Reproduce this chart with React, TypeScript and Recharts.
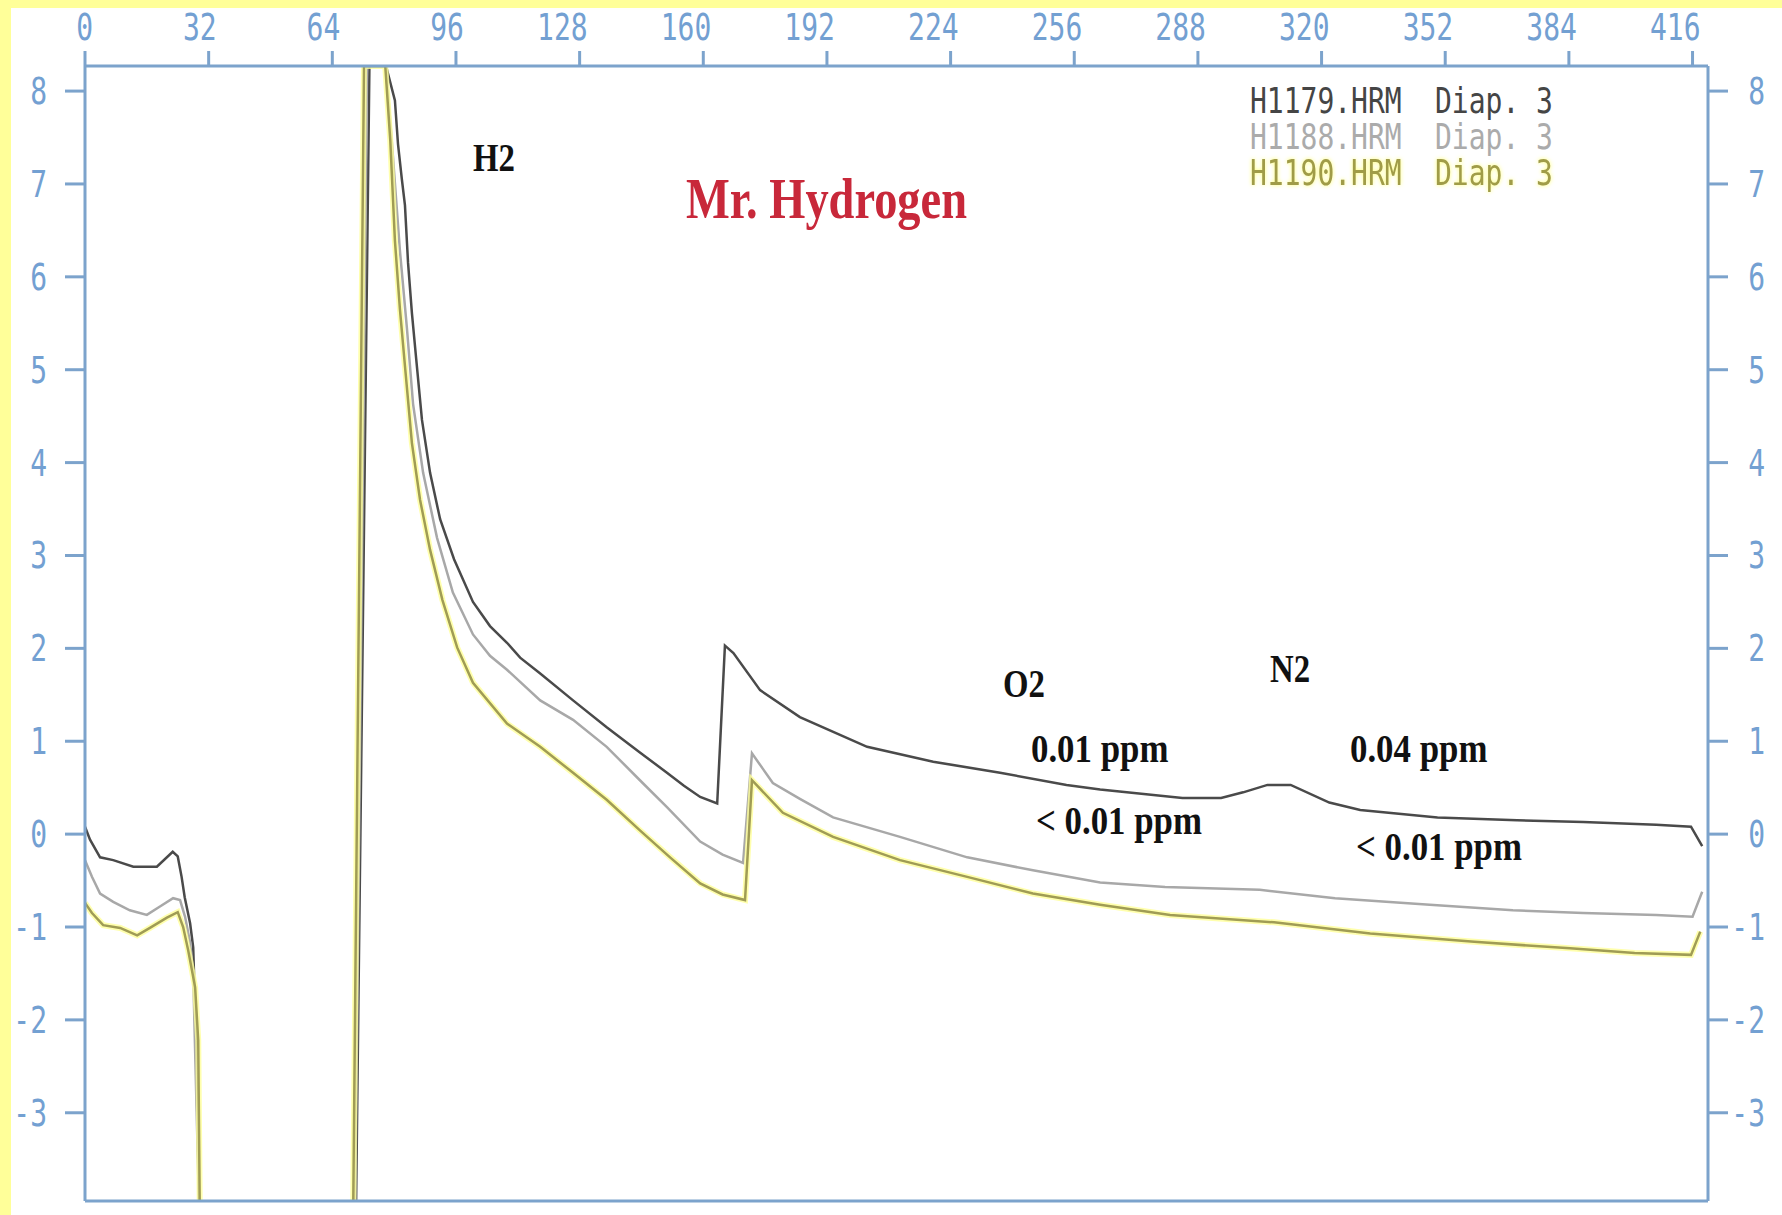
import { LineChart, Line, XAxis, YAxis } from 'recharts'

const AXIS = '#7ca3cc'
const TICK_TEXT = '#73a0d2'
const MONO = '"DejaVu Sans Mono", "Liberation Mono", monospace'
const SERIF = '"Liberation Serif", "Times New Roman", serif'

const xTicks = [0, 32, 64, 96, 128, 160, 192, 224, 256, 288, 320, 352, 384, 416]
const yTicks = [-3, -2, -1, 0, 1, 2, 3, 4, 5, 6, 7, 8]

// H1179.HRM (dark trace)
const h1179X = [0, 1.3, 3.9, 7.3, 12.5, 18.6, 22.7, 24, 25, 25.8, 27.2, 28, 28.5, 29.8, 70.0, 73.6, 77.9, 80.2, 81, 82, 82.8, 83.6, 84.6, 85.7, 87.2, 89.3, 91.9, 95.5, 100.4, 104.8, 109.2, 112.6, 117.8, 126.3, 135, 143.6, 150.6, 155, 159.2, 163.6, 165.6, 167.8, 174.7, 185, 202.4, 219.5, 236.8, 254, 262.7, 284, 294, 299.7, 306, 312, 322, 330, 350, 370.6, 387.7, 406.6, 415.6, 418.5]
const h1179Y = [0.08, -0.06, -0.25, -0.28, -0.35, -0.35, -0.19, -0.24, -0.46, -0.68, -0.96, -1.22, -1.89, -4.5, -4.5, 8.27, 8.27, 7.9, 7.43, 7.05, 6.77, 6.15, 5.61, 5.12, 4.46, 3.89, 3.39, 2.96, 2.5, 2.24, 2.06, 1.9, 1.73, 1.44, 1.15, 0.88, 0.66, 0.52, 0.4, 0.33, 2.03, 1.95, 1.55, 1.26, 0.94, 0.78, 0.66, 0.53, 0.48, 0.39, 0.39, 0.45, 0.53, 0.53, 0.34, 0.26, 0.18, 0.15, 0.13, 0.1, 0.08, -0.13]

// H1188.HRM (grey trace)
const h1188X = [0, 1.8, 3.9, 7.3, 11.6, 16, 19.4, 22.8, 24.6, 25.9, 27.2, 28, 29.8, 69.8, 73.0, 77.9, 79.5, 81.5, 83.3, 84.9, 87.5, 91.1, 95.2, 100.4, 104.8, 109.2, 117.8, 126.3, 135, 143.6, 150.6, 159.2, 165, 170.3, 172.6, 178, 185, 193.6, 210.9, 228.3, 245.3, 262.7, 279.5, 304, 323.5, 348, 369.5, 387.7, 406.6, 416, 418.5]
const h1188Y = [-0.28, -0.46, -0.64, -0.73, -0.82, -0.87, -0.78, -0.69, -0.71, -0.89, -1.17, -1.5, -4.5, -4.5, 8.27, 8.27, 7.4, 6.28, 5.45, 4.63, 3.89, 3.19, 2.6, 2.15, 1.92, 1.77, 1.44, 1.23, 0.94, 0.58, 0.29, -0.08, -0.22, -0.31, 0.87, 0.55, 0.38, 0.18, -0.03, -0.25, -0.39, -0.52, -0.57, -0.6, -0.69, -0.76, -0.82, -0.85, -0.87, -0.89, -0.62]

// H1190.HRM (olive trace)
const h1190X = [0, 1.8, 4.7, 9.1, 13.5, 16.8, 21.2, 24, 25.4, 26.7, 28.5, 29.3, 29.8, 69.3, 72.2, 77.7, 79, 80.2, 81.5, 82.8, 84.6, 86.7, 89.3, 92.5, 96.3, 100.4, 109.2, 117.8, 126.3, 135, 143.6, 151.4, 159.2, 165, 170.8, 172.6, 180.6, 193.6, 210.9, 228.3, 245.3, 262.7, 280.8, 307.7, 332.6, 359.5, 384.3, 401, 415.6, 418]
const h1190Y = [-0.74, -0.85, -0.98, -1.01, -1.09, -1.01, -0.9, -0.84, -1.0, -1.25, -1.65, -2.22, -4.5, -4.5, 8.27, 8.27, 7.47, 6.39, 5.65, 5.04, 4.21, 3.6, 3.06, 2.52, 2.01, 1.63, 1.19, 0.94, 0.66, 0.37, 0.04, -0.25, -0.53, -0.65, -0.71, 0.58, 0.23, -0.03, -0.28, -0.46, -0.64, -0.76, -0.87, -0.95, -1.07, -1.16, -1.23, -1.28, -1.3, -1.05]

const legendRows = [
  { name: 'H1179.HRM', diap: 'Diap. 3', color: '#454545', glow: 'none' },
  { name: 'H1188.HRM', diap: 'Diap. 3', color: '#ababab', glow: 'none' },
  { name: 'H1190.HRM', diap: 'Diap. 3', color: '#a09c48', glow: 'drop-shadow(0 0 2px #ffff70)' },
]

const notes = [
  { text: 'H2', x: 473, y: 171, sx: 0.8 },
  { text: 'O2', x: 1003, y: 697, sx: 0.8 },
  { text: '0.01 ppm', x: 1031, y: 762, sx: 0.85 },
  { text: '< 0.01 ppm', x: 1036, y: 834, sx: 0.85 },
  { text: 'N2', x: 1270, y: 682, sx: 0.8 },
  { text: '0.04 ppm', x: 1350, y: 762, sx: 0.85 },
  { text: '< 0.01 ppm', x: 1356, y: 860, sx: 0.85 },
]

const toPoints = (xs: number[], ys: number[]) => xs.map((t, i) => ({ t, v: ys[i] }))

// pixel-ish tall digits like the original plotter font
const TopTick = (props: any) => {
  const { x, y, payload } = props
  return (
    <text transform={`translate(${x + 8},${y}) scale(1,1.3)`} textAnchor="end" fill={TICK_TEXT} fontSize={28} fontFamily={MONO}>
      {payload.value}
    </text>
  )
}

const LeftTick = (props: any) => {
  const { x, y, payload } = props
  return (
    <text transform={`translate(${x},${y + 13}) scale(1,1.3)`} textAnchor="end" fill={TICK_TEXT} fontSize={28} fontFamily={MONO}>
      {payload.value}
    </text>
  )
}

const RightTick = (props: any) => {
  const { x, y, payload } = props
  return (
    <text transform={`translate(${x + 17},${y + 13}) scale(1,1.3)`} textAnchor="end" fill={TICK_TEXT} fontSize={28} fontFamily={MONO}>
      {payload.value}
    </text>
  )
}

export default function App() {
  return (
    <div style={{ position: 'absolute', left: 0, top: 0, width: 1782, height: 1215, background: '#ffffff', overflow: 'hidden' }}>
      <div style={{ position: 'absolute', left: 0, top: 0, width: 1782, height: 8, background: '#ffff99' }} />
      <div style={{ position: 'absolute', left: 0, top: 0, width: 11, height: 1215, background: '#ffff99' }} />
      <div style={{ position: 'absolute', left: 0, top: 0 }}>
        <LineChart width={1782} height={1215} margin={{ top: 0, right: 0, bottom: 0, left: 0 }}>
          <XAxis xAxisId="top" orientation="top" type="number" dataKey="t" domain={[0, 420]} ticks={xTicks}
            interval={0} height={66} tickSize={15} tickMargin={11} allowDataOverflow
            axisLine={{ stroke: AXIS, strokeWidth: 3 }} tickLine={{ stroke: AXIS, strokeWidth: 3 }} tick={<TopTick />} />
          <XAxis xAxisId="bottom" orientation="bottom" type="number" dataKey="t" domain={[0, 420]} height={14}
            tick={false} tickLine={false} allowDataOverflow axisLine={{ stroke: AXIS, strokeWidth: 3 }} />
          <YAxis yAxisId="left" type="number" domain={[-3.95, 8.27]} ticks={yTicks} interval={0} width={85}
            tickSize={20} tickMargin={18} allowDataOverflow
            axisLine={{ stroke: AXIS, strokeWidth: 3 }} tickLine={{ stroke: AXIS, strokeWidth: 3 }} tick={<LeftTick />} />
          <YAxis yAxisId="right" orientation="right" type="number" domain={[-3.95, 8.27]} ticks={yTicks} interval={0}
            width={74} tickSize={20} tickMargin={20} allowDataOverflow
            axisLine={{ stroke: AXIS, strokeWidth: 3 }} tickLine={{ stroke: AXIS, strokeWidth: 3 }} tick={<RightTick />} />
          <Line xAxisId="top" yAxisId="left" data={toPoints(h1179X, h1179Y)} dataKey="v" type="linear"
            stroke="#4a4a4a" strokeWidth={2.5} dot={false} isAnimationActive={false} />
          <Line xAxisId="top" yAxisId="left" data={toPoints(h1188X, h1188Y)} dataKey="v" type="linear"
            stroke="#a8a8a8" strokeWidth={2.5} dot={false} isAnimationActive={false} />
          <Line xAxisId="top" yAxisId="left" data={toPoints(h1190X, h1190Y)} dataKey="v" type="linear"
            stroke="#ffff99" strokeWidth={6} strokeOpacity={0.8} dot={false} isAnimationActive={false} />
          <Line xAxisId="top" yAxisId="left" data={toPoints(h1190X, h1190Y)} dataKey="v" type="linear"
            stroke="#a09c55" strokeWidth={2.5} dot={false} isAnimationActive={false} />
        </LineChart>
      </div>
      <svg width={1782} height={1215} style={{ position: 'absolute', left: 0, top: 0, pointerEvents: 'none' }}>
        {notes.map((n, i) => (
          <text key={i} transform={`translate(${n.x},${n.y}) scale(${n.sx},1)`} fontFamily={SERIF} fontWeight="bold"
            fontSize={41} fill="#111111">{n.text}</text>
        ))}
        <text transform="translate(686,218) scale(0.8,1)" fontFamily={SERIF} fontWeight="bold" fontSize={58}
          fill="#c8283a">Mr. Hydrogen</text>
        {legendRows.map((r, i) => (
          <g key={r.name} fill={r.color} fontFamily={MONO} fontSize={28} style={{ filter: r.glow }}>
            <text transform={`translate(1250,${113 + i * 36}) scale(1,1.25)`}>{r.name}</text>
            <text transform={`translate(1435,${113 + i * 36}) scale(1,1.25)`}>{r.diap}</text>
          </g>
        ))}
      </svg>
    </div>
  )
}
